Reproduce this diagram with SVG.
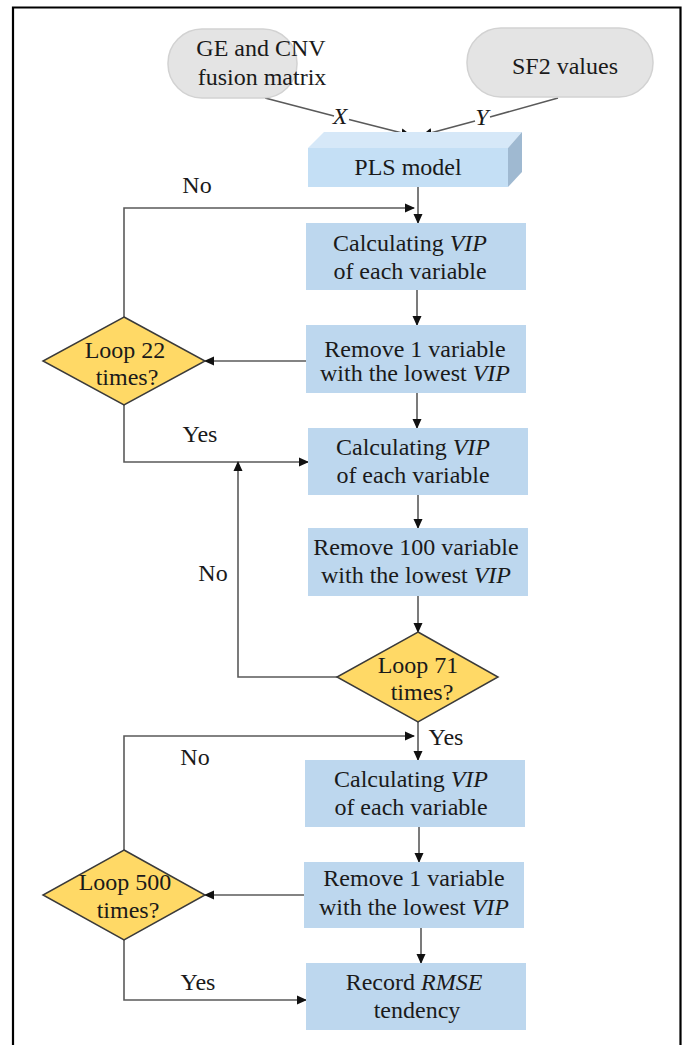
<svg xmlns="http://www.w3.org/2000/svg" width="683" height="1045" viewBox="0 0 683 1045">
<defs>
<marker id="ah" markerWidth="10" markerHeight="10" refX="9" refY="5" orient="auto" markerUnits="userSpaceOnUse">
<path d="M0,0.5 L10,5 L0,9.5 Z" fill="#111"/>
</marker>
<style>
text{font-family:"Liberation Serif","Times New Roman",serif;font-size:24px;fill:#1a1a1a;text-anchor:middle}
.i{font-style:italic}
.box{fill:#bdd7ee}
.dia{fill:#ffd966;stroke:#3a3a3a;stroke-width:1.5}
.term{fill:#e4e4e4;stroke:#d2d2d2;stroke-width:1.5}
.ln{fill:none;stroke:#5a5a5a;stroke-width:1.6}
.ar{marker-end:url(#ah)}
</style>
</defs>
<rect width="683" height="1045" fill="#fff"/>
<path d="M13,1045 V7.5 H680.5 V1045" fill="none" stroke="#000" stroke-width="2.2"/>

<g id="connectors">
<path class="ln" d="M265,98 L334,116"/>
<path class="ln ar" d="M349,119.5 L410,135"/>
<path class="ln" d="M558,98 L490,117"/>
<path class="ln ar" d="M475,121 L423,135"/>
<path class="ln ar" d="M418,187 V223"/>
<path class="ln ar" d="M124,317 V208 H414"/>
<path class="ln ar" d="M417,290 V325"/>
<path class="ln ar" d="M306,361 H205"/>
<path class="ln ar" d="M417,393 V428"/>
<path class="ln ar" d="M124,405 V462 H308"/>
<path class="ln ar" d="M418,495 V528"/>
<path class="ln ar" d="M418,596 V632"/>
<path class="ln ar" d="M337,677 H238 V462"/>
<path class="ln ar" d="M418,722 V760"/>
<path class="ln ar" d="M124,850 V736 H414"/>
<path class="ln ar" d="M419,827 V862"/>
<path class="ln ar" d="M304,895 H205"/>
<path class="ln ar" d="M421,928 V963"/>
<path class="ln ar" d="M124,940 V1000 H306"/>
<text x="340" y="124" class="i">X</text>
<text x="482" y="125" class="i">Y</text>
<text x="197" y="193">No</text>
<text x="200" y="442">Yes</text>
<text x="213" y="581">No</text>
<text x="446" y="745">Yes</text>
<text x="195" y="765">No</text>
<text x="198" y="990">Yes</text>
</g>

<g id="ge">
<rect class="term" x="168" y="29" width="129" height="69" rx="34"/>
<text x="261" y="56">GE and CNV</text>
<text x="262" y="85">fusion matrix</text>
</g>
<g id="sf2">
<rect class="term" x="467" y="28" width="186" height="69" rx="34"/>
<text x="565" y="74">SF2 values</text>
</g>

<g id="pls">
<path d="M308,148 L324,132 H522 L508,148 Z" fill="#d6e8f8"/>
<path d="M508,148 L522,132 V172 L508,187 Z" fill="#9fb9d1"/>
<rect x="308" y="148" width="200" height="39" fill="#c4dff5"/>
<text x="408" y="175">PLS model</text>
</g>

<g id="calc1">
<rect class="box" x="306" y="223" width="220" height="67"/>
<text x="410" y="251">Calculating <tspan class="i">VIP</tspan></text>
<text x="410" y="279">of each variable</text>
</g>
<g id="remove1">
<rect class="box" x="306" y="325" width="220" height="68"/>
<text x="415" y="357">Remove 1 variable</text>
<text x="415" y="381">with the lowest <tspan class="i">VIP</tspan></text>
</g>
<g id="loop22">
<path class="dia" d="M124,317 L205,361 L124,405 L43,361 Z"/>
<text x="125" y="358">Loop 22</text>
<text x="127" y="385">times?</text>
</g>
<g id="calc2">
<rect class="box" x="308" y="428" width="220" height="67"/>
<text x="413" y="455">Calculating <tspan class="i">VIP</tspan></text>
<text x="413" y="483">of each variable</text>
</g>
<g id="remove100">
<rect class="box" x="308" y="528" width="220" height="68"/>
<text x="416" y="555">Remove 100 variable</text>
<text x="416" y="583">with the lowest <tspan class="i">VIP</tspan></text>
</g>
<g id="loop71">
<path class="dia" d="M418,632 L498,677 L418,722 L337,677 Z"/>
<text x="418" y="673">Loop 71</text>
<text x="422" y="700">times?</text>
</g>
<g id="calc3">
<rect class="box" x="305" y="760" width="220" height="67"/>
<text x="411" y="787">Calculating <tspan class="i">VIP</tspan></text>
<text x="411" y="815">of each variable</text>
</g>
<g id="remove1b">
<rect class="box" x="304" y="862" width="220" height="66"/>
<text x="414" y="886">Remove 1 variable</text>
<text x="414" y="915">with the lowest <tspan class="i">VIP</tspan></text>
</g>
<g id="loop500">
<path class="dia" d="M124,850 L205,895 L124,940 L43,895 Z"/>
<text x="125" y="890">Loop 500</text>
<text x="128" y="918">times?</text>
</g>
<g id="record">
<rect class="box" x="306" y="963" width="220" height="67"/>
<text x="414" y="990">Record <tspan class="i">RMSE</tspan></text>
<text x="417" y="1018">tendency</text>
</g>
</svg>
